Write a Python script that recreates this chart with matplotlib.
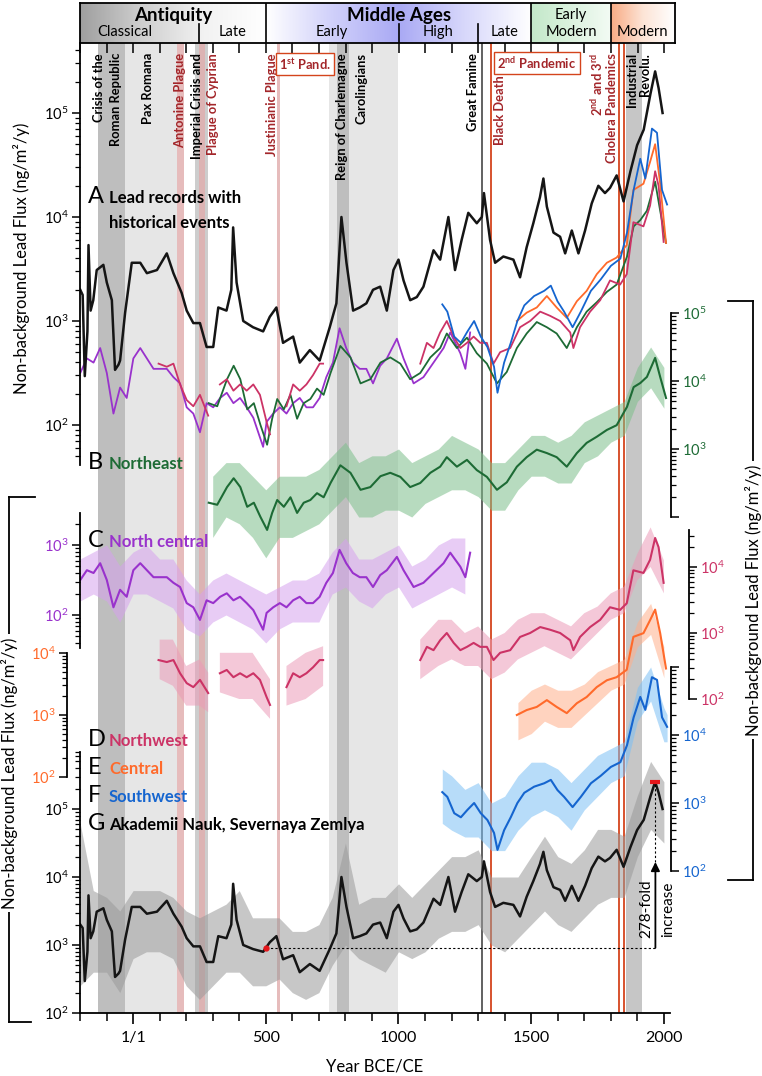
import numpy as np
import matplotlib
matplotlib.use("Agg")
import matplotlib.pyplot as plt
from matplotlib.colors import LinearSegmentedColormap
from matplotlib.lines import Line2D
from matplotlib.ticker import FixedLocator, FuncFormatter, NullFormatter

plt.rcParams['font.family'] = ['Lato', 'DejaVu Sans']
plt.rcParams['mathtext.fontset'] = 'custom'
plt.rcParams['mathtext.rm'] = 'Lato'
plt.rcParams['mathtext.it'] = 'Lato:italic'
plt.rcParams['mathtext.bf'] = 'Lato:bold'

# ---- data (log10 of flux, ng/m2/y) ----
# Akademii Nauk (black, panel A and G)
black_years = [-199, -190, -182, -172, -168, -160, -150, -137, -112, -99,
               -80, -68, -55, -49, -30, -5, 27, 52, 90, 127,
               152, 183, 202, 227, 252, 277, 302, 321, 352, 370,
               377, 390, 415, 452, 490, 515, 540, 565, 603, 628,
               666, 703, 741, 766, 785, 804, 829, 854, 879, 904,
               931, 956, 981, 1000, 1019, 1044, 1069, 1094, 1132, 1157,
               1188, 1213, 1238, 1263, 1295, 1314, 1322, 1345, 1364, 1395,
               1433, 1458, 1483, 1508, 1533, 1546, 1559, 1584, 1609, 1628,
               1653, 1678, 1703, 1728, 1753, 1778, 1797, 1822, 1848, 1874,
               1899, 1924, 1949, 1967, 1980, 1995]
black_log = [3.30, 3.25, 2.47, 2.90, 3.73, 3.10, 3.20, 3.49, 3.54, 3.37,
             3.20, 2.53, 2.58, 2.62, 3.08, 3.56, 3.56, 3.46, 3.49, 3.65,
             3.46, 3.27, 3.10, 2.98, 2.98, 2.75, 2.75, 3.13, 3.10, 3.30,
             3.90, 3.37, 3.00, 2.94, 2.90, 3.04, 3.13, 2.79, 2.85, 2.60,
             2.72, 2.62, 2.94, 3.17, 4.00, 3.56, 3.10, 3.13, 3.17, 3.30,
             3.33, 3.10, 3.49, 3.59, 3.39, 3.20, 3.23, 3.33, 3.68, 3.59,
             4.00, 3.49, 3.78, 4.04, 3.94, 4.00, 4.23, 3.78, 3.56, 3.62,
             3.59, 3.42, 3.71, 3.94, 4.19, 4.37, 4.10, 3.85, 3.81, 3.65,
             3.87, 3.65, 3.87, 4.13, 4.30, 4.23, 4.28, 4.40, 4.15, 4.44,
             4.69, 4.84, 5.18, 5.40, 5.24, 5.00]
black_env_years = list(range(-200, 2001, 50))
black_env_lo = [2.4, 2.6, 2.6, 2.3, 2.8, 2.9, 2.9, 2.8, 2.4, 2.2,
                2.4, 2.6, 2.6, 2.4, 2.4, 2.5, 2.3, 2.2, 2.3, 2.7,
                3.0, 2.8, 2.7, 2.6, 2.9, 2.8, 2.9, 3.1, 3.2, 3.2,
                3.3, 3.0, 2.9, 3.1, 3.3, 3.5, 3.3, 3.2, 3.4, 3.6,
                3.7, 3.7, 4.3, 4.7, 4.5]
black_env_hi = [4.8, 3.8, 3.7, 3.5, 3.8, 3.8, 3.8, 3.7, 3.5, 3.4,
                3.5, 3.6, 3.8, 3.4, 3.4, 3.4, 3.2, 3.2, 3.3, 3.7,
                4.5, 3.6, 3.7, 3.7, 3.9, 3.7, 3.9, 4.1, 4.3, 4.3,
                4.4, 4.0, 4.0, 4.0, 4.3, 4.6, 4.3, 4.2, 4.4, 4.7,
                4.7, 4.6, 5.2, 5.7, 5.4]

# Northeast (green)
ne_years = [285, 317, 354, 379, 404, 430, 455, 480, 505, 524,
            543, 568, 593, 618, 643, 668, 693, 718, 744, 781,
            819, 857, 894, 932, 969, 1007, 1044, 1082, 1120, 1157,
            1182, 1220, 1258, 1295, 1333, 1371, 1408, 1446, 1483, 1521,
            1559, 1596, 1634, 1672, 1709, 1747, 1785, 1822, 1861, 1886,
            1911, 1936, 1967, 1986, 2008]
ne_log = [2.21, 2.18, 2.44, 2.57, 2.44, 2.15, 2.21, 2.00, 1.81, 2.06,
          2.25, 2.15, 2.29, 2.06, 2.21, 2.25, 2.35, 2.29, 2.50, 2.76,
          2.65, 2.40, 2.44, 2.60, 2.65, 2.59, 2.44, 2.50, 2.65, 2.74,
          2.88, 2.74, 2.84, 2.69, 2.59, 2.40, 2.51, 2.74, 2.88, 2.99,
          2.94, 2.88, 2.74, 2.94, 3.09, 3.18, 3.28, 3.35, 3.62, 3.91,
          3.97, 4.06, 4.34, 4.06, 3.75]
ne_env_years = list(range(300, 2001, 50))
ne_env_lo = [1.7, 2.0, 1.9, 1.7, 1.4, 1.7, 1.7, 1.8, 1.9, 2.1,
             2.3, 2.0, 2.0, 2.1, 2.1, 2.0, 2.2, 2.3, 2.4, 2.4,
             2.3, 2.1, 2.1, 2.4, 2.6, 2.6, 2.5, 2.5, 2.8, 2.9,
             3.1, 3.2, 3.7, 3.9, 3.6]
ne_env_hi = [2.6, 2.8, 2.8, 2.6, 2.4, 2.6, 2.6, 2.6, 2.7, 2.9,
             3.1, 2.8, 2.9, 2.9, 3.0, 2.8, 2.9, 3.0, 3.2, 3.1,
             3.0, 2.8, 2.8, 3.0, 3.2, 3.2, 3.1, 3.2, 3.4, 3.5,
             3.6, 3.7, 4.2, 4.5, 4.2]

# North central (purple)
nc_years = [-199, -174, -149, -124, -99, -74, -49, -24, 1, 27,
            52, 77, 102, 127, 152, 177, 202, 227, 252, 277,
            302, 328, 353, 378, 403, 428, 453, 490, 503, 528,
            553, 578, 603, 628, 653, 678, 703, 728, 753, 778,
            803, 828, 854, 879, 904, 931, 956, 994, 1019, 1057,
            1094, 1132, 1170, 1195, 1233, 1252, 1270]
nc_log = [2.50, 2.64, 2.60, 2.74, 2.50, 2.11, 2.36, 2.26, 2.64, 2.74,
          2.64, 2.54, 2.54, 2.54, 2.46, 2.40, 2.17, 2.11, 1.93, 2.21,
          2.17, 2.26, 2.31, 2.21, 2.26, 2.17, 2.07, 1.79, 2.03, 2.11,
          2.17, 2.11, 2.21, 2.26, 2.17, 2.17, 2.26, 2.46, 2.60, 2.93,
          2.74, 2.60, 2.54, 2.54, 2.40, 2.57, 2.64, 2.83, 2.64, 2.40,
          2.46, 2.60, 2.74, 2.89, 2.69, 2.54, 2.89]
nc_env_years = list(range(-200, 1251, 50))
nc_env_lo = [2.2, 2.3, 2.2, 1.9, 2.3, 2.3, 2.2, 2.1, 1.8, 1.7,
             1.9, 2.0, 1.9, 1.8, 1.6, 1.8, 1.9, 1.9, 1.9, 2.3,
             2.4, 2.2, 2.1, 2.3, 2.4, 2.1, 2.2, 2.3, 2.4, 2.3]
nc_env_hi = [2.8, 2.9, 3.0, 2.7, 2.9, 3.0, 2.8, 2.8, 2.5, 2.3,
             2.5, 2.6, 2.5, 2.4, 2.3, 2.4, 2.5, 2.5, 2.6, 2.9,
             3.1, 2.8, 2.8, 2.9, 3.0, 2.7, 2.8, 3.0, 3.1, 3.1]

# Northwest (pink), gaps marked with nan
nw_years = [96, 127, 152, 177, 202, 227, 252, 283, 305, 327,
            353, 378, 403, 428, 453, 478, 503, 516, 547, 578,
            603, 628, 653, 678, 703, 716, 900, 1082, 1107, 1132,
            1157, 1182, 1208, 1233, 1258, 1283, 1308, 1333, 1358, 1383,
            1421, 1458, 1496, 1534, 1571, 1609, 1647, 1659, 1684, 1722,
            1760, 1797, 1835, 1860, 1885, 1923, 1948, 1967, 1980, 1999]
nw_log = [2.59, 2.56, 2.59, 2.39, 2.24, 2.18, 2.29, 2.09, np.nan, 2.39,
          2.44, 2.33, 2.39, 2.33, 2.39, 2.29, 2.03, 1.91, np.nan, 2.18,
          2.39, 2.33, 2.39, 2.48, 2.59, 2.59, np.nan, 2.59, 2.79, 2.74,
          2.89, 3.00, 2.85, 2.74, 2.79, 2.85, 2.79, 2.79, 2.59, 2.70,
          2.74, 2.94, 3.00, 3.09, 3.05, 3.00, 2.89, 2.74, 2.94, 3.09,
          3.20, 3.39, 3.35, 3.45, 3.95, 3.91, 4.11, 4.44, 4.30, 3.76]
nw_env_years = [100, 150, 200, 250, 283, 305, 327, 400, 450, 516,
                547, 578, 650, 716, 900, 1082, 1150, 1200, 1250, 1300,
                1350, 1400, 1450, 1500, 1550, 1600, 1650, 1700, 1750, 1800,
                1850, 1900, 1950, 2000]
nw_env_lo = [2.3, 2.2, 1.9, 1.9, 1.8, np.nan, 2.1, 2.0, 2.0, 1.7,
             np.nan, 1.9, 2.0, 2.2, np.nan, 2.3, 2.5, 2.6, 2.5, 2.5,
             2.3, 2.4, 2.6, 2.7, 2.8, 2.7, 2.6, 2.8, 3.0, 3.2,
             3.3, 3.8, 4.0, 3.6]
nw_env_hi = [2.9, 2.9, 2.5, 2.6, 2.4, np.nan, 2.7, 2.7, 2.7, 2.3,
             np.nan, 2.5, 2.7, 2.8, np.nan, 2.9, 3.2, 3.2, 3.0, 3.1,
             2.9, 3.0, 3.2, 3.3, 3.3, 3.2, 3.1, 3.3, 3.4, 3.6,
             3.7, 4.2, 4.6, 4.1]

# Central (orange)
ce_years = [1446, 1483, 1521, 1559, 1596, 1634, 1672, 1709, 1747, 1785,
            1822, 1860, 1885, 1923, 1948, 1967, 1986, 2008]
ce_log = [3.00, 3.08, 3.13, 3.24, 3.13, 3.03, 3.19, 3.29, 3.45, 3.56,
          3.61, 3.73, 4.26, 4.32, 4.53, 4.70, 4.32, 3.75]
ce_env_years = list(range(1450, 2001, 50))
ce_env_lo = [2.6, 2.7, 2.9, 2.8, 2.8, 3.0, 3.2, 3.4, 3.5, 4.1, 4.3, 3.6]
ce_env_hi = [3.2, 3.4, 3.5, 3.4, 3.4, 3.5, 3.7, 3.8, 3.9, 4.5, 4.8, 4.1]

# Southwest (blue)
sw_years = [1165, 1184, 1210, 1235, 1260, 1285, 1310, 1335, 1360, 1373,
            1398, 1423, 1448, 1474, 1511, 1549, 1574, 1599, 1624, 1656,
            1687, 1725, 1762, 1800, 1836, 1861, 1886, 1911, 1930, 1955,
            1974, 1993, 2012]
sw_log = [3.16, 3.09, 2.85, 2.79, 2.90, 3.00, 2.85, 2.75, 2.56, 2.31,
          2.60, 2.79, 3.00, 3.15, 3.24, 3.29, 3.34, 3.19, 3.09, 2.94,
          3.09, 3.29, 3.40, 3.53, 3.60, 3.85, 4.26, 4.56, 4.37, 4.85,
          4.81, 4.26, 4.12]
sw_env_years = [1165, 1200, 1250, 1300, 1350, 1400, 1450, 1500, 1550, 1600,
                1650, 1700, 1750, 1800, 1850, 1900, 1950, 2000, 2012]
sw_env_lo = [2.7, 2.6, 2.5, 2.5, 2.3, 2.3, 2.6, 2.8, 2.9, 2.8,
             2.6, 2.9, 3.1, 3.3, 3.4, 4.2, 4.5, 3.9, 3.9]
sw_env_hi = [3.5, 3.4, 3.2, 3.3, 3.0, 3.1, 3.4, 3.6, 3.6, 3.5,
             3.3, 3.5, 3.7, 3.8, 3.9, 4.7, 5.0, 4.4, 4.3]

# 278-fold increase annotation
base_year, base_flux = 500, 910
peak_year, peak_flux = 1968, 253000

# historical periods / events
era_bounds = [-200, 500, 1500, 1800, 2041]
sub_divs = [250, 1000, 1300]
band_spans = [(-134, -30), (-30, 165), (165, 190), (235, 284), (249, 270),
              (541, 552), (740, 1000), (768, 814), (1858, 1918)]
great_famine = 1316
red_events = [1348, 1831, 1849]

# ---- styling ----
W, H, DPI = 762, 1076, 100
TOP, BOT, LEFT, RIGHT = 43, 1013, 80, 670
XMIN, XMAX = -200, 2023

green, green_l = '#1d6b35', '#7dbf8b'
purple, purple_l = '#9932cc', '#d6a2ee'
pink, pink_l = '#cc3366', '#eb9bb8'
orange, orange_l = '#ff6a2b', '#ffb08c'
blue, blue_l = '#1565cf', '#7cc0f5'
black, gray_l = '#151515', '#9a9a9a'
red_txt = '#a3262a'
red_line = '#d4441c'

fig = plt.figure(figsize=(W / DPI, H / DPI), dpi=DPI)
rect = [LEFT / W, 1 - BOT / H, (RIGHT - LEFT) / W, (BOT - TOP) / H]


def P(px, py):
    return px / W, 1 - py / H


# base axes: period bands + year axis
base = fig.add_axes(rect)
base.set_xlim(XMIN, XMAX)
base.set_ylim(0, 1)
band_cols = ['#bebebe', '#e6e6e6', '#e6bcbc', '#cdcdcd', '#dcb3b3',
             '#e6bcbc', '#e6e6e6', '#bebebe', '#c6c6c6']
for (a, b), c in zip(band_spans, band_cols):
    base.axvspan(a, b, color=c, lw=0, zorder=0)
base.axvline(great_famine, color='#555555', lw=1.3)
for e in red_events:
    base.axvline(e, color=red_line, lw=1.3)
for s in ['left', 'top', 'right']:
    base.spines[s].set_visible(False)
base.spines['bottom'].set_linewidth(1.3)
base.set_yticks([])
base.set_xticks([0, 500, 1000, 1500, 2000])
base.set_xticklabels(['1/1', '500', '1000', '1500', '2000'])
base.set_xticks([t for t in range(-200, 2001, 100) if t % 500], minor=True)
base.tick_params(axis='x', which='major', length=8, width=1.2, labelsize=11.5, pad=5)
base.tick_params(axis='x', which='minor', length=5.5, width=1.1)
fig.text(*P(375, 1066), 'Year BCE/CE', fontsize=12, ha='center', va='center')


def log_axis(k, yk, dec, side, shift, lo_b, hi_b, labels, color):
    ax = fig.add_axes(rect)
    ax.patch.set_visible(False)
    ax.set_xlim(XMIN, XMAX)
    ax.set_yscale('log')
    ax.set_ylim(10 ** (k - (BOT - yk) / dec), 10 ** (k + (yk - TOP) / dec))
    if hi_b is None:
        hi_b = ax.get_ylim()[1]
    for s in ax.spines.values():
        s.set_visible(False)
    sp = ax.spines[side]
    sp.set_visible(True)
    sp.set_bounds(lo_b, hi_b)
    sp.set_position(('outward', shift * 72 / DPI))
    sp.set_linewidth(1.3)
    ax.xaxis.set_visible(False)
    e0, e1 = int(np.floor(np.log10(lo_b))), int(np.ceil(np.log10(hi_b)))
    majors = [10.0 ** e for e in range(e0, e1 + 1) if lo_b * 0.999 <= 10.0 ** e <= hi_b * 1.001]
    minors = [m * 10.0 ** e for e in range(e0, e1 + 1) for m in range(2, 10)
              if lo_b * 0.999 <= m * 10.0 ** e <= hi_b * 1.001]
    ax.yaxis.set_major_locator(FixedLocator(majors))
    ax.yaxis.set_minor_locator(FixedLocator(minors))
    ax.yaxis.set_minor_formatter(NullFormatter())
    ax.yaxis.set_major_formatter(FuncFormatter(
        lambda v, p: '$10^{%d}$' % round(np.log10(v)) if round(np.log10(v)) in labels else ''))
    if side == 'right':
        ax.yaxis.tick_right()
    else:
        ax.yaxis.tick_left()
    ax.tick_params(axis='y', which='major', length=6, width=1.1, labelsize=10.5,
                   labelcolor=color, pad=2)
    ax.tick_params(axis='y', which='minor', length=3.5, width=0.9)
    return ax


def raw(ax, yrs, lo, hi, col):
    ax.fill_between(yrs, 10 ** np.array(lo), 10 ** np.array(hi), color=col, lw=0, alpha=0.55)


def line(ax, yrs, lg, col, lw=1.5):
    ax.plot(yrs, 10 ** np.array(lg), color=col, lw=lw)


axA = log_axis(5, 113, 104, 'left', 0, 41, None, [2, 3, 4, 5], 'k')
axB = log_axis(5, 313, 68, 'right', 1, 100, 1e5, [3, 4, 5], green)
axC = log_axis(3, 545, 70, 'left', 0, 34, 2900, [2, 3], purple)
axD = log_axis(4, 567, 66, 'right', 19, 100, 36000, [2, 3, 4], pink)
axE = log_axis(4, 653, 62, 'left', 13, 100, 1e4, [2, 3, 4], orange)
axF = log_axis(4, 735, 68, 'right', 1, 100, 1e5, [2, 3, 4], blue)
axG = log_axis(2, 1013, 68, 'left', 0, 100, 7e5, [2, 3, 4, 5], 'k')

# panel A: all smoothed records together
line(axA, nc_years, nc_log, purple, 1.3)
line(axA, ne_years, ne_log, green, 1.3)
line(axA, nw_years, nw_log, pink, 1.3)
line(axA, ce_years, ce_log, orange, 1.3)
line(axA, sw_years, sw_log, blue, 1.3)
line(axA, black_years, black_log, black, 1.8)

# regional panels
raw(axB, ne_env_years, ne_env_lo, ne_env_hi, green_l)
line(axB, ne_years, ne_log, green)
raw(axC, nc_env_years, nc_env_lo, nc_env_hi, purple_l)
line(axC, nc_years, nc_log, purple)
raw(axD, nw_env_years, nw_env_lo, nw_env_hi, pink_l)
line(axD, nw_years, nw_log, pink)
raw(axE, ce_env_years, ce_env_lo, ce_env_hi, orange_l)
line(axE, ce_years, ce_log, orange)
raw(axF, sw_env_years, sw_env_lo, sw_env_hi, blue_l)
line(axF, sw_years, sw_log, blue)
raw(axG, black_env_years, black_env_lo, black_env_hi, gray_l)
line(axG, black_years, black_log, black, 1.8)

# 278-fold increase
tip = 10 ** (2 + (BOT - 862) / 68)
axG.plot([base_year, peak_year], [base_flux, base_flux], ls=(0, (2, 2)), color='k', lw=0.8)
axG.plot([peak_year, peak_year], [tip, peak_flux], ls=(0, (2, 2)), color='k', lw=0.8)
axG.annotate('', xy=(peak_year, tip), xytext=(peak_year, base_flux),
             arrowprops=dict(arrowstyle='-|>', color='k', lw=1.3, mutation_scale=13,
                             shrinkA=0, shrinkB=0))
axG.plot(base_year, base_flux, 'o', color='#e5161b', ms=3.5)
axG.plot(peak_year, peak_flux, marker='_', color='#e5161b', ms=7, mew=3)
fig.text(*P(646, 909), '278-fold', rotation=90, fontsize=11, ha='center', va='center')
fig.text(*P(668, 909), 'increase', rotation=90, fontsize=11, ha='center', va='center')

# axis titles with brackets
ylab = 'Non-background Lead Flux (ng/m²/y)'
fig.text(*P(22, 258), ylab, rotation=90, fontsize=12, ha='center', va='center')
fig.add_artist(Line2D([9 / W, 9 / W], [1 - 497 / H, 1 - 1022 / H], color='k', lw=1.3))
fig.add_artist(Line2D([9 / W, 35 / W], [1 - 497 / H, 1 - 497 / H], color='k', lw=1.3))
fig.add_artist(Line2D([9 / W, 31 / W], [1 - 1022 / H, 1 - 1022 / H], color='k', lw=1.3))
fig.text(*P(10, 773), ylab, rotation=90, fontsize=12, ha='center', va='center',
         bbox=dict(fc='white', ec='none', pad=2))
fig.add_artist(Line2D([753 / W, 753 / W], [1 - 301 / H, 1 - 880 / H], color='k', lw=1.3))
fig.add_artist(Line2D([728 / W, 753 / W], [1 - 301 / H, 1 - 301 / H], color='k', lw=1.3))
fig.add_artist(Line2D([728 / W, 753 / W], [1 - 880 / H, 1 - 880 / H], color='k', lw=1.3))
fig.text(*P(754, 600), ylab, rotation=90, fontsize=12, ha='center', va='center',
         bbox=dict(fc='white', ec='none', pad=2))

# panel letters and names
letters = ['A', 'B', 'C', 'D', 'E', 'F', 'G']
names = ['Lead records with', 'Northeast', 'North central', 'Northwest',
         'Central', 'Southwest', 'Akademii Nauk, Severnaya Zemlya']
name_cols = ['k', green, purple, pink, orange, blue, 'k']
baselines = [203, 469, 547, 746, 774, 802, 830]
for L, n, c, b in zip(letters, names, name_cols, baselines):
    fig.text(*P(88, b), L, fontsize=17, va='baseline', ha='left')
    fig.text(*P(109, b), n, fontsize=12, fontweight='bold', color=c, va='baseline', ha='left')
fig.text(*P(109, 228), 'historical events', fontsize=12, fontweight='bold', va='baseline', ha='left')

# event labels
ev = [('Crisis of the', 99, 53, 'k'), ('Roman Republic', 116, 53, 'k'),
      ('Pax Romana', 148, 53, 'k'), ('Antonine Plague', 180, 53, red_txt),
      ('Imperial Crisis and', 197, 53, 'k'), ('Plague of Cyprian', 213, 53, red_txt),
      ('Justinianic Plague', 272, 53, red_txt), ('Reign of Charlemagne', 342, 53, 'k'),
      ('Carolingians', 361, 53, 'k'), ('Great Famine', 473, 53, 'k'),
      ('Black Death', 500, 75, red_txt), ('2$^{\\mathbf{nd}}$ and 3$^{\\mathbf{rd}}$', 597, 53, red_txt),
      ('Cholera Pandemics', 612, 53, red_txt), ('Industrial', 632, 53, 'k'),
      ('Revolu.', 645, 53, 'k')]
for t, px, py, c in ev:
    fig.text(*P(px, py), t, rotation=90, fontsize=9.3, fontweight='bold', color=c,
             ha='center', va='top')
for t, px, py in [('1$^{\\mathbf{st}}$ Pand.', 305, 64), ('2$^{\\mathbf{nd}}$ Pandemic', 537, 63)]:
    fig.text(*P(px, py), t, fontsize=9.3, fontweight='bold', color=red_txt, ha='center', va='center',
             bbox=dict(boxstyle='square,pad=0.25', fc='white', ec=red_line, lw=1))

# header with eras
hdr = fig.add_axes([LEFT / W, 1 - TOP / H, 595 / W, 40 / H])
era_cols = [['#9f9f9f', '#cfcfcf', '#f2f2f2', '#ffffff'],
            ['#ffffff', '#d0d0fa', '#a9a9f4', '#d8d8fb', '#ffffff'],
            ['#c3e8c9', '#f3fbf4'],
            ['#f8ab84', '#fde4d6', '#ffffff']]
for a, b, cols in zip(era_bounds[:-1], era_bounds[1:], era_cols):
    cm = LinearSegmentedColormap.from_list('g', cols)
    hdr.imshow(np.linspace(0, 1, 256)[None, :], extent=(a, b, 0, 1), cmap=cm,
               aspect='auto', interpolation='bilinear')
hdr.set_xlim(era_bounds[0], era_bounds[-1])
hdr.set_ylim(0, 1)
for b in era_bounds[1:-1]:
    hdr.axvline(b, color='k', lw=1.2)
for b in sub_divs:
    hdr.axvline(b, ymin=0, ymax=0.48, color='k', lw=1.2)
for s in hdr.spines.values():
    s.set_linewidth(1.3)
hdr.set_yticks([])
hdr.set_xticks(range(-200, 2001, 100))
hdr.tick_params(axis='x', direction='out', length=7, width=1.1, labelbottom=False)
row1, row2 = 0.70, 0.27
for t, x in [('Antiquity', 150), ('Middle Ages', 1000)]:
    hdr.text(x, row1, t, fontsize=13.5, fontweight='bold', ha='center', va='center')
hdr.text(1650, row1, 'Early', fontsize=10.5, ha='center', va='center')
for t, x in [('Classical', -30), ('Late', 375), ('Early', 750), ('High', 1150),
             ('Late', 1400), ('Modern', 1650), ('Modern', 1920)]:
    hdr.text(x, row2, t, fontsize=10.5, ha='center', va='center')

fig.savefig('out.png', dpi=DPI)
